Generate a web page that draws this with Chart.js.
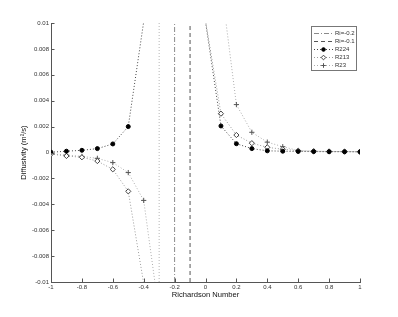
<!DOCTYPE html>
<html>
<head>
<meta charset="utf-8">
<script src="https://cdn.jsdelivr.net/npm/chart.js@4/dist/chart.umd.min.js"></script>
<style>
  html, body { margin: 0; padding: 0; background: #fff; }
  #wrap { width: 398px; height: 317px; }
</style>
</head>
<body>
<div id="wrap"><canvas id="chart"></canvas></div>
<script>
// Richardson numbers where the diffusivities were sampled
const richardson = [-1, -0.9, -0.8, -0.7, -0.6, -0.5, -0.4, -0.3, -0.2, -0.1, 0,
    0.1, 0.2, 0.3, 0.4, 0.5, 0.6, 0.7, 0.8, 0.9, 1];

// diffusivity values (m^2/s), null = not plotted
const r224 = [0.00002, 0.0001, 0.00017, 0.0003, 0.00066, 0.002, 0.0101, null, null, null, 0.0101,
    0.00205, 0.00068, 0.0003, 0.00013, 0.0001, 0.00008, 0.00007, 0.00006, 0.00006, 0.00005];
const r213 = [-0.00012, -0.00027, -0.00037, -0.00066, -0.0013, -0.003, -0.0101, null, null, null, 0.0102,
    0.003, 0.00135, 0.00072, 0.0004, 0.00025, 0.00014, 0.0001, 0.00008, 0.00007, 0.00006];
const r23 = [-0.0001, -0.0002, -0.0003, -0.00045, -0.00078, -0.00155, -0.0037, -0.0124, null, null, null,
    0.0131, 0.0037, 0.00156, 0.0008, 0.00045, 0.00015, 0.0001, 0.00008, 0.00007, 0.00006];

// critical Richardson number lines
const riLines = [-0.2, -0.1];
const riExtra = -0.3;

const xTicks = [-1, -0.8, -0.6, -0.4, -0.2, 0, 0.2, 0.4, 0.6, 0.8, 1];
const yTicks = [-0.01, -0.008, -0.006, -0.004, -0.002, 0, 0.002, 0.004, 0.006, 0.008, 0.01];

const xMin = -1, xMax = 1, yMin = -0.01, yMax = 0.01;

function toPoints(vals) {
    return richardson.map((x, i) => ({ x: x, y: vals[i] }));
}
function vline(x) {
    return [{ x: x, y: yMin }, { x: x, y: yMax }];
}
// hide markers that fall outside the axes
function inRange(ctx) {
    const v = ctx.raw && ctx.raw.y;
    return v !== null && v <= yMax && v >= yMin;
}

const FONT = 'Liberation Sans, Arial, sans-serif';

const datasets = [
    {
        label: 'Ri=-0.2', data: vline(riLines[0]),
        borderColor: '#8a8a8a', borderWidth: 1, borderDash: [5, 2, 1, 2],
        pointRadius: 0, legend: true
    },
    {
        label: 'Ri=-0.1', data: vline(riLines[1]),
        borderColor: '#555', borderWidth: 1, borderDash: [4, 3],
        pointRadius: 0, legend: true
    },
    {
        label: 'Ri=-0.3', data: vline(riExtra),
        borderColor: '#b5b5b5', borderWidth: 1, borderDash: [1, 2],
        pointRadius: 0, legend: false
    },
    {
        label: 'R224', data: toPoints(r224),
        borderColor: '#444', borderWidth: 1, borderDash: [1, 2],
        pointStyle: 'circle', backgroundColor: '#000', pointBorderColor: '#000',
        pointRadius: (c) => inRange(c) ? 2 : 0, pointBorderWidth: 1, legend: true
    },
    {
        label: 'R213', data: toPoints(r213),
        borderColor: '#9a9a9a', borderWidth: 1, borderDash: [1, 2],
        pointStyle: 'rectRot', backgroundColor: '#fff', pointBorderColor: '#444',
        pointRadius: (c) => inRange(c) ? 2.6 : 0, pointBorderWidth: 1, legend: true
    },
    {
        label: 'R23', data: toPoints(r23),
        borderColor: '#adadad', borderWidth: 1, borderDash: [1, 2],
        pointStyle: 'cross', backgroundColor: '#fff', pointBorderColor: '#555',
        pointRadius: (c) => inRange(c) ? 2.6 : 0, pointBorderWidth: 1, legend: true
    }
];

// small inward ticks like the matlab axes
const innerTicks = {
    id: 'innerTicks',
    afterDraw(chart) {
        const ctx = chart.ctx;
        const xs = chart.scales.x, ys = chart.scales.y;
        const a = chart.chartArea;
        ctx.save();
        ctx.strokeStyle = '#555';
        ctx.lineWidth = 1;
        ctx.beginPath();
        xTicks.forEach(v => {
            const px = Math.round(xs.getPixelForValue(v)) + 0.5;
            ctx.moveTo(px, a.bottom);
            ctx.lineTo(px, a.bottom - 3.5);
        });
        yTicks.forEach(v => {
            const py = Math.round(ys.getPixelForValue(v)) + 0.5;
            ctx.moveTo(a.left, py);
            ctx.lineTo(a.left + 3.5, py);
        });
        ctx.stroke();
        ctx.restore();
    }
};

// boxed legend in the top right corner of the axes
const boxLegend = {
    id: 'boxLegend',
    afterDraw(chart) {
        const ctx = chart.ctx;
        const items = chart.data.datasets.filter(d => d.legend);
        const bx = 311.5, by = 26.5, bw = 45, bh = 44;
        ctx.save();
        ctx.fillStyle = '#fff';
        ctx.fillRect(bx, by, bw, bh);
        ctx.strokeStyle = '#777';
        ctx.lineWidth = 1;
        ctx.strokeRect(bx, by, bw, bh);
        items.forEach((d, i) => {
            const y = Math.round(by + 6 + i * 8.2) + 0.5;
            ctx.strokeStyle = d.borderColor;
            ctx.setLineDash(d.borderDash || []);
            ctx.beginPath();
            ctx.moveTo(314, y);
            ctx.lineTo(333, y);
            ctx.stroke();
            ctx.setLineDash([]);
            if (d.pointStyle && typeof d.pointRadius === 'function') {
                ctx.fillStyle = d.backgroundColor;
                ctx.strokeStyle = d.pointBorderColor;
                Chart.helpers.drawPoint(ctx, {
                    pointStyle: d.pointStyle, radius: d.pointStyle === 'circle' ? 1.8 : 2.3,
                    borderWidth: 1, rotation: 0
                }, 323.5, y);
            }
            ctx.fillStyle = '#333';
            ctx.font = '6px ' + FONT;
            ctx.textBaseline = 'middle';
            ctx.textAlign = 'left';
            ctx.fillText(d.label, 335, y);
        });
        ctx.restore();
    }
};

new Chart(document.getElementById('chart'), {
    type: 'line',
    data: { datasets: datasets },
    options: {
        responsive: true,
        maintainAspectRatio: false,
        animation: false,
        layout: { padding: { top: 23, right: 38, left: 0, bottom: 0 } },
        elements: { line: { tension: 0, fill: false } },
        datasets: { line: { clip: 0, spanGaps: false } },
        plugins: {
            legend: { display: false },
            tooltip: { enabled: false }
        },
        scales: {
            x: {
                type: 'linear', min: xMin, max: xMax,
                afterFit(s) { s.height = 35; },
                afterBuildTicks(s) { s.ticks = xTicks.map(v => ({ value: v })); },
                grid: { display: true, drawOnChartArea: false, drawTicks: false },
                border: { display: true, color: '#555', width: 1 },
                ticks: {
                    padding: 2, color: '#333', maxRotation: 0, autoSkip: false,
                    font: { family: FONT, size: 6 },
                    callback: (v) => String(Number(v.toFixed(3)))
                },
                title: {
                    display: true, text: 'Richardson Number', color: '#111',
                    font: { family: FONT, size: 7.6 },
                    padding: { top: 0, bottom: 17.5 }
                }
            },
            y: {
                type: 'linear', min: yMin, max: yMax,
                afterFit(s) { s.width = 51; },
                afterBuildTicks(s) { s.ticks = yTicks.map(v => ({ value: v })); },
                grid: { display: true, drawOnChartArea: false, drawTicks: false },
                border: { display: true, color: '#555', width: 1 },
                ticks: {
                    padding: 2, color: '#333', autoSkip: false,
                    font: { family: FONT, size: 6 },
                    callback: (v) => String(Number(v.toFixed(3)))
                },
                title: {
                    display: true, text: 'Diffusivity (m²/s)', color: '#111',
                    font: { family: FONT, size: 7.6 },
                    padding: { top: 19, bottom: 0 }
                }
            }
        }
    },
    plugins: [innerTicks, boxLegend]
});
</script>
</body>
</html>
